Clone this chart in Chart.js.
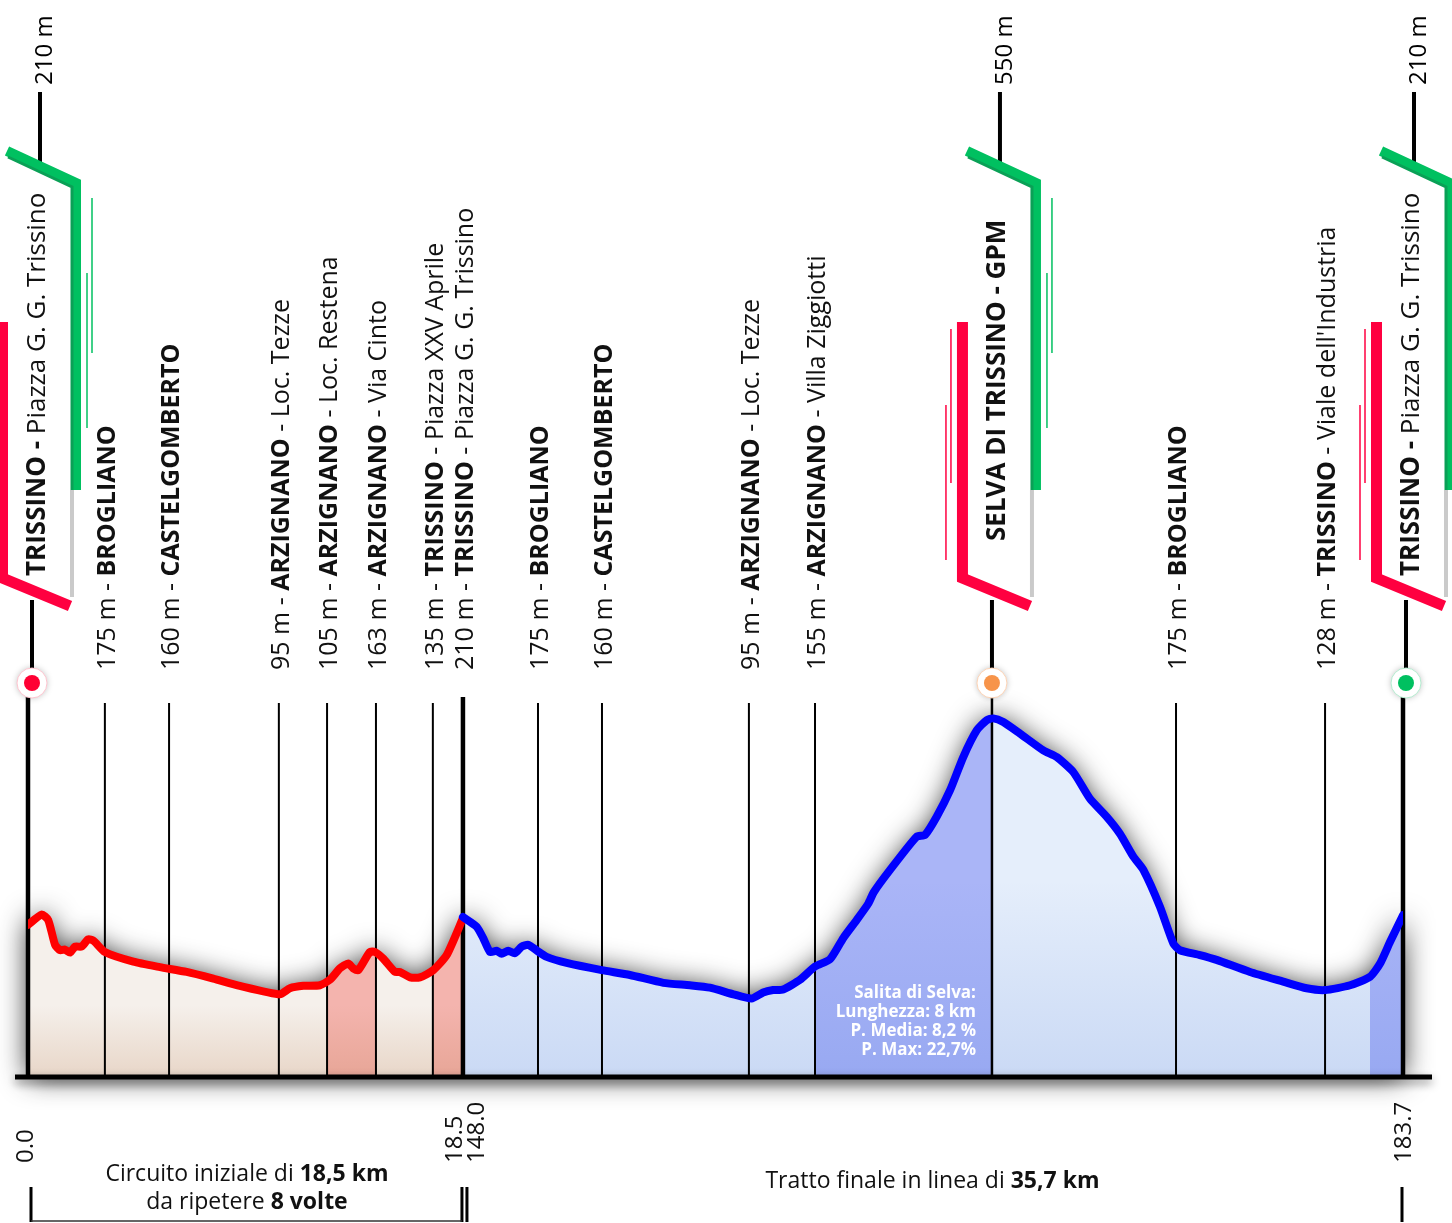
<!DOCTYPE html>
<html>
<head>
<meta charset="utf-8">
<script src="https://cdn.jsdelivr.net/npm/chart.js@4.4.0/dist/chart.umd.min.js"></script>
<style>
  html, body { margin: 0; padding: 0; background: #fff; }
</style>
</head>
<body>
<canvas id="profile" width="1452" height="1223"></canvas>
<script>
// circuito iniziale (0 - 18.5 km)
var circuitKm = [0, 0.58, 0.86, 1.15, 1.36, 1.57, 1.79, 2.0, 2.28, 2.56, 2.78, 3.27, 4.48, 5.61, 6.75, 7.88, 9.01, 10.72, 11.14, 11.71,
  12.42, 12.84, 13.27, 13.62, 13.83, 14.05, 14.54, 14.76, 15.11, 15.61, 15.82, 16.25, 16.67, 17.24, 17.81, 18.5];
var circuitElev = [208, 225, 216, 175, 166, 167, 162, 172, 172, 184, 182, 163, 147, 138, 130, 119, 107, 93, 103, 107,
  108, 117, 136, 144, 136, 133, 163, 163, 152, 130, 130, 121, 121, 133, 158, 219];

// tratto finale (148.0 - 183.7 km)
var finalKm = [148.0, 148.52, 148.77, 149.03, 149.28, 149.47, 149.72, 149.97, 150.23, 150.48, 150.82, 151.18, 151.94, 153.27, 154.34,
  155.61, 156.62, 157.38, 158.27, 158.96, 159.40, 159.78, 160.16, 160.80, 161.37, 161.94, 162.44, 162.95, 163.39, 163.6,
  164.22, 165.23, 165.55, 165.99, 166.50, 167.00, 167.51, 167.89, 168.14, 168.52, 169.15, 170.04, 170.55, 171.18, 171.81,
  172.45, 172.95, 173.46, 173.84, 174.47, 174.98, 175.23, 175.99, 176.62, 177.89, 179.15, 180.04, 180.74, 181.69, 182.45,
  182.83, 183.21, 183.7];
var finalElev = [221, 205, 186, 163, 165, 160, 165, 161, 172, 175, 165, 155, 145, 133, 125,
  112, 108, 104, 93, 86, 96, 100, 101, 117, 139, 151, 186, 216, 243, 262,
  299, 354, 357, 387, 431, 486, 530, 547, 550, 544, 525, 497, 486, 461, 417,
  387, 359, 321, 299, 238, 177, 166, 158, 150, 130, 114, 103, 100, 108, 122,
  144, 180, 224];

var circuitBands = [[12.72, 14.80], [17.22, 18.5]];
var finalBands = [[161.37, 168.09], [182.45, 183.7]];

// localita'
var placeKm = [3.27, 6.0, 10.67, 12.72, 14.80, 17.22, 18.5, 150.85, 153.28, 158.86, 161.37, 175.08, 180.74];
var placeElev = [175, 160, 95, 105, 163, 135, 210, 175, 160, 95, 155, 175, 128];
var placeTown = ['BROGLIANO', 'CASTELGOMBERTO', 'ARZIGNANO', 'ARZIGNANO', 'ARZIGNANO', 'TRISSINO', 'TRISSINO',
  'BROGLIANO', 'CASTELGOMBERTO', 'ARZIGNANO', 'ARZIGNANO', 'BROGLIANO', 'TRISSINO'];
var placeNote = ['', '', 'Loc. Tezze', 'Loc. Restena', 'Via Cinto', 'Piazza XXV Aprile', 'Piazza G. G. Trissino',
  '', '', 'Loc. Tezze', 'Villa Ziggiotti', '', "Viale dell'Industria"];

// partenza, GPM, arrivo
var stopKm = [0, 168.09, 183.7];
var stopElev = [210, 550, 210];
var stopTown = ['TRISSINO - ', 'SELVA DI TRISSINO - GPM', 'TRISSINO - '];
var stopNote = ['Piazza G. G. Trissino', '', 'Piazza G. G. Trissino'];

var tickKm = [0, 18.5, 148.0, 183.7];
var tickText = ['0.0', '18.5', '148.0', '183.7'];

var climbText = ['Salita di Selva:', 'Lunghezza: 8 km', 'P. Media: 8,2 %', 'P. Max: 22,7%'];

var FONT = '"Open Sans", sans-serif';
var finalStretch = 1.12; // the final part is drawn a bit wider per km
var markerColor = ['#ff0033', '#f7944a', '#00c060'];
var markerRing = ['#ffc4cf', '#fdd3b5', '#b5ecd0'];
var flagShift = [4, 0, 3];
var tickShift = [5, -1, 21, 8];

function plotX(km) {
  if (km <= tickKm[1]) return km;
  return tickKm[1] + (km - tickKm[2]) * finalStretch;
}
function px(chart, km) {
  return chart.scales.x.getPixelForValue(plotX(km));
}
function toPoints(kms, elevs) {
  var pts = [];
  for (var i = 0; i < kms.length; i++) pts.push({x: plotX(kms[i]), y: elevs[i]});
  return pts;
}

function bandGradient(chart, from, to, bands, baseColor, bandColor) {
  var x0 = px(chart, from), x1 = px(chart, to);
  var g = chart.ctx.createLinearGradient(x0, 0, x1, 0);
  g.addColorStop(0, baseColor);
  bands.forEach(function(b) {
    var a = Math.max(0, Math.min(1, (px(chart, b[0]) - x0) / (x1 - x0)));
    var c = Math.max(0, Math.min(1, (px(chart, b[1]) - x0) / (x1 - x0)));
    g.addColorStop(a, baseColor); g.addColorStop(a, bandColor);
    g.addColorStop(c, bandColor); g.addColorStop(c, baseColor);
  });
  g.addColorStop(1, baseColor);
  return g;
}
function shadeGradient(chart, yTop, rgb, alpha) {
  var area = chart.chartArea;
  var g = chart.ctx.createLinearGradient(0, yTop, 0, area.bottom);
  g.addColorStop(0, 'rgba(' + rgb + ',0)');
  g.addColorStop(1, 'rgba(' + rgb + ',' + alpha + ')');
  return g;
}

function drawRotated(ctx, x, y, parts, size) {
  ctx.save();
  ctx.translate(x, y);
  ctx.rotate(-Math.PI / 2);
  ctx.textBaseline = 'alphabetic';
  ctx.textAlign = 'left';
  var pos = 0;
  parts.forEach(function(p) {
    ctx.font = (p[1] ? 'bold ' : '') + size + 'px ' + FONT;
    ctx.fillText(p[0], pos, 0);
    pos += ctx.measureText(p[0]).width;
  });
  ctx.restore();
}
function drawCentered(ctx, cx, y, parts, size) {
  var total = 0;
  parts.forEach(function(p) {
    ctx.font = (p[1] ? 'bold ' : '') + size + 'px ' + FONT;
    total += ctx.measureText(p[0]).width;
  });
  var pos = cx - total / 2;
  ctx.textAlign = 'left';
  ctx.textBaseline = 'alphabetic';
  parts.forEach(function(p) {
    ctx.font = (p[1] ? 'bold ' : '') + size + 'px ' + FONT;
    ctx.fillText(p[0], pos, y);
    pos += ctx.measureText(p[0]).width;
  });
}
function vline(ctx, x, y0, y1, w, color) {
  ctx.beginPath();
  ctx.lineWidth = w;
  ctx.strokeStyle = color;
  ctx.moveTo(x, y0);
  ctx.lineTo(x, y1);
  ctx.stroke();
}

function drawProfileShadow(chart) {
  var ctx = chart.ctx, area = chart.chartArea;
  var pts = chart.getDatasetMeta(4).data.concat(chart.getDatasetMeta(5).data);
  ctx.save();
  ctx.beginPath();
  ctx.moveTo(pts[0].x, area.bottom);
  pts.forEach(function(p) { ctx.lineTo(p.x, p.y); });
  ctx.lineTo(pts[pts.length - 1].x, area.bottom);
  ctx.closePath();
  ctx.shadowColor = 'rgba(0,0,0,0.85)';
  ctx.shadowBlur = 28;
  ctx.fillStyle = '#fff';
  ctx.fill();
  ctx.restore();
}

function drawPlaceLines(chart) {
  var ctx = chart.ctx, area = chart.chartArea;
  ctx.save();
  placeKm.forEach(function(km) {
    vline(ctx, px(chart, km), area.top, area.bottom, 2, '#000');
  });
  vline(ctx, px(chart, stopKm[1]), area.top - 6, area.bottom, 2.5, '#000');
  [tickKm[0], tickKm[1], tickKm[3]].forEach(function(km) {
    vline(ctx, px(chart, km), area.top - 6, area.bottom, 4.5, '#000');
  });
  ctx.restore();
}

function drawFlag(ctx, x0, i) {
  ctx.save();
  ctx.lineJoin = 'miter';
  ctx.lineCap = 'butt';
  // top line and height
  vline(ctx, x0 + 8, 92, 164, 4, '#000');
  ctx.fillStyle = '#000';
  drawRotated(ctx, x0 + 20, 85, [[stopElev[i] + ' m', false]], 24);
  // thin accents
  vline(ctx, x0 + 60, 198, 353, 1.5, '#00c060');
  vline(ctx, x0 + 55, 273, 428, 1.5, '#00c060');
  vline(ctx, x0 - 41, 329, 483, 1.5, '#ff0040');
  vline(ctx, x0 - 46, 405, 560, 1.5, '#ff0040');
  // green band
  ctx.beginPath();
  ctx.lineWidth = 10;
  ctx.strokeStyle = '#00c060';
  ctx.moveTo(x0 - 25, 151);
  ctx.lineTo(x0 + 44, 183);
  ctx.lineTo(x0 + 44, 490);
  ctx.stroke();
  ctx.beginPath();
  ctx.lineWidth = 3;
  ctx.strokeStyle = '#0aa056';
  ctx.moveTo(x0 - 24, 157);
  ctx.lineTo(x0 + 40, 187);
  ctx.lineTo(x0 + 40, 490);
  ctx.stroke();
  vline(ctx, x0 + 40, 490, 597, 4, '#cacaca');
  // red band
  ctx.beginPath();
  ctx.lineWidth = 11;
  ctx.strokeStyle = '#ff0040';
  ctx.moveTo(x0 - 29.5, 322);
  ctx.lineTo(x0 - 29.5, 578);
  ctx.lineTo(x0 + 38, 606);
  ctx.stroke();
  // name
  ctx.fillStyle = '#111';
  var parts = [[stopTown[i], true]];
  if (stopNote[i]) parts.push([stopNote[i], false]);
  drawRotated(ctx, x0 + 13, i === 1 ? 541 : 576, parts, 26);
  // stem and marker
  vline(ctx, x0, 600, 668, 4, '#000');
  ctx.beginPath();
  ctx.shadowColor = 'rgba(0,0,0,0.25)';
  ctx.shadowBlur = 6;
  ctx.fillStyle = '#fff';
  ctx.arc(x0, 683, 15, 0, Math.PI * 2);
  ctx.fill();
  ctx.shadowBlur = 0;
  ctx.lineWidth = 1;
  ctx.strokeStyle = markerRing[i];
  ctx.stroke();
  ctx.beginPath();
  ctx.fillStyle = markerColor[i];
  ctx.arc(x0, 683, 8, 0, Math.PI * 2);
  ctx.fill();
  ctx.restore();
}

var decor = {
  id: 'decor',
  beforeDatasetsDraw: function(chart) {
    drawProfileShadow(chart);
  },
  beforeDatasetDraw: function(chart, args) {
    if (args.index === 4) drawPlaceLines(chart);
  },
  afterDatasetsDraw: function(chart) {
    var ctx = chart.ctx, area = chart.chartArea;
    ctx.save();
    // base line
    ctx.shadowColor = 'rgba(0,0,0,0.45)';
    ctx.shadowBlur = 10;
    ctx.shadowOffsetY = 4;
    ctx.beginPath();
    ctx.lineWidth = 5;
    ctx.strokeStyle = '#000';
    ctx.moveTo(15, area.bottom);
    ctx.lineTo(1432, area.bottom);
    ctx.stroke();
    ctx.restore();

    // climb info
    ctx.save();
    ctx.fillStyle = '#fff';
    ctx.textAlign = 'right';
    ctx.textBaseline = 'alphabetic';
    ctx.font = 'bold 17px ' + FONT;
    var cx = px(chart, stopKm[1]) - 16;
    climbText.forEach(function(t, i) { ctx.fillText(t, cx, 998 + i * 19); });
    ctx.restore();
  },
  afterDraw: function(chart) {
    var ctx = chart.ctx, area = chart.chartArea;
    ctx.save();
    // place labels
    ctx.fillStyle = '#111';
    placeKm.forEach(function(km, i) {
      var parts = [[placeElev[i] + ' m - ', false], [placeTown[i], true]];
      if (placeNote[i]) parts.push([' - ' + placeNote[i], false]);
      drawRotated(ctx, px(chart, km) + 10, 670, parts, 25);
    });
    // flags
    stopKm.forEach(function(km, i) { drawFlag(ctx, px(chart, km) + flagShift[i], i); });
    // km ticks
    ctx.fillStyle = '#111';
    tickKm.forEach(function(km, i) {
      drawRotated(ctx, px(chart, km) + tickShift[i], 1163, [[tickText[i], false]], 24);
    });
    // brackets
    var xa = px(chart, tickKm[0]) + 3, xb = px(chart, tickKm[1]), xc = px(chart, tickKm[3]) - 1;
    vline(ctx, xa, 1187, 1222, 3, '#000');
    vline(ctx, xb - 1, 1187, 1222, 3, '#000');
    vline(ctx, xb + 4, 1187, 1222, 3, '#000');
    vline(ctx, xc, 1187, 1222, 3, '#000');
    ctx.beginPath();
    ctx.lineWidth = 1.5;
    ctx.strokeStyle = '#333';
    ctx.moveTo(xa, 1221);
    ctx.lineTo(xb - 1, 1221);
    ctx.stroke();
    ctx.fillStyle = '#111';
    drawCentered(ctx, (xa + xb) / 2, 1181, [['Circuito iniziale di ', false], ['18,5 km', true]], 23);
    drawCentered(ctx, (xa + xb) / 2, 1209, [['da ripetere ', false], ['8 volte', true]], 23);
    drawCentered(ctx, (xb + xc) / 2, 1188, [['Tratto finale in linea di ', false], ['35,7 km', true]], 23);
    ctx.restore();
  }
};

var TENSION = 0.2;
var circuitPts = toPoints(circuitKm, circuitElev);
var finalPts = toPoints(finalKm, finalElev);

new Chart(document.getElementById('profile'), {
  type: 'line',
  data: {
    datasets: [
      {
        data: circuitPts, order: 5, fill: 'start', borderWidth: 0, borderColor: 'rgba(0,0,0,0)', pointRadius: 0, tension: TENSION,
        backgroundColor: function(c) {
          if (!c.chart.chartArea) return '#f5f0eb';
          return bandGradient(c.chart, tickKm[0], tickKm[1], circuitBands, '#f5f0eb', '#f4b4ae');
        }
      },
      {
        data: circuitPts, order: 4, fill: 'start', borderWidth: 0, borderColor: 'rgba(0,0,0,0)', pointRadius: 0, tension: TENSION,
        backgroundColor: function(c) {
          if (!c.chart.chartArea) return 'rgba(0,0,0,0)';
          return shadeGradient(c.chart, 1005, '180,110,60', 0.2);
        }
      },
      {
        data: finalPts, order: 3, fill: 'start', borderWidth: 0, borderColor: 'rgba(0,0,0,0)', pointRadius: 0, tension: TENSION,
        backgroundColor: function(c) {
          if (!c.chart.chartArea) return '#e5eefb';
          return bandGradient(c.chart, tickKm[2], tickKm[3], finalBands, '#e5eefb', '#aab5f7');
        }
      },
      {
        data: finalPts, order: 2, fill: 'start', borderWidth: 0, borderColor: 'rgba(0,0,0,0)', pointRadius: 0, tension: TENSION,
        backgroundColor: function(c) {
          if (!c.chart.chartArea) return 'rgba(0,0,0,0)';
          return shadeGradient(c.chart, 880, '50,100,210', 0.15);
        }
      },
      {
        data: circuitPts, order: 1, fill: false, borderColor: '#ff0000', borderWidth: 8, pointRadius: 0, tension: TENSION,
        borderJoinStyle: 'round', borderCapStyle: 'round'
      },
      {
        data: finalPts, order: 0, fill: false, borderColor: '#0000ff', borderWidth: 8, pointRadius: 0, tension: TENSION,
        borderJoinStyle: 'round', borderCapStyle: 'round'
      }
    ]
  },
  options: {
    responsive: false,
    animation: false,
    events: [],
    layout: { padding: { left: 28, right: 49, top: 703, bottom: 146 } },
    scales: {
      x: { type: 'linear', display: false, min: 0, max: plotX(tickKm[3]) },
      y: { type: 'linear', display: false, min: -44, max: 575.5 }
    },
    plugins: { legend: { display: false }, tooltip: { enabled: false } }
  },
  plugins: [decor]
});
</script>
</body>
</html>
